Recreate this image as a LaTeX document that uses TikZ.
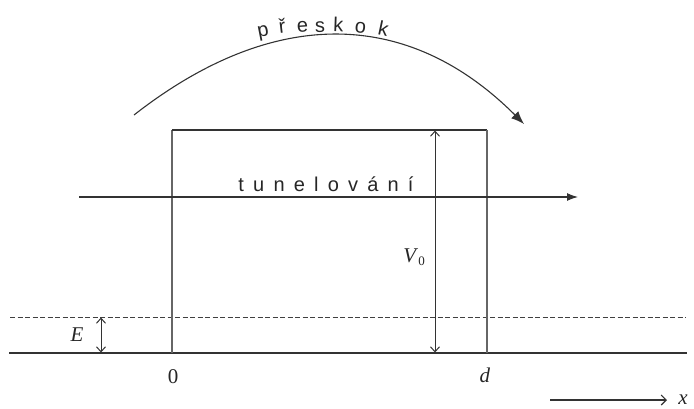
\documentclass[tikz,border=0pt]{standalone}
\usepackage{fontspec}
\setmainfont{Liberation Serif}
\newfontfamily\sansf{Liberation Sans}
\usetikzlibrary{arrows.meta}
\tikzset{
  ln/.style={line width=1.1pt, draw=black!80},
  boxln/.style={line width=1.1pt, draw=black!60},
  barb/.style={line width=1pt, draw=black!80, {Straight Barb[length=5pt,width=9pt]}-{Straight Barb[length=5pt,width=9pt]}},
  lbl/.style={inner sep=0pt, font=\fontsize{21}{21}\selectfont, text=black!85},
  ltr/.style={inner sep=0pt, anchor=base, font=\sansf\fontsize{20}{20}\selectfont, text=black!85},
}
\newcommand\gp{\kern9.2pt}
\begin{document}
\begin{tikzpicture}[x=1pt,y=-1pt]
\useasboundingbox (0,0) rectangle (694,408);
% baseline and energy level
\coordinate (bl) at (9,353);
\coordinate (br) at (687,353);
\draw[ln] (bl) -- (br);
\coordinate (dl) at (10,317);
\coordinate (dr) at (686,317);
\draw[line width=0.8pt, draw=black!75, dash pattern=on 5pt off 2.5pt] (dl) -- (dr);
% barrier
\coordinate (b0) at (172,353);
\coordinate (b1) at (172,130);
\coordinate (b2) at (487,130);
\coordinate (b3) at (487,353);
\draw[boxln] (b0) -- (b1);
\draw[ln] (b1) -- (b2);
\draw[boxln] (b2) -- (b3);
% V0 arrow
\coordinate (vt) at (435,130.5);
\coordinate (vb) at (435,352.5);
\draw[barb] (vt) -- (vb);
\node[lbl, anchor=base east] (V) at (425,262) {\textit{V}\raisebox{-3pt}{\fontsize{13}{13}\selectfont 0}};
% E arrow
\coordinate (et) at (101,317.5);
\coordinate (eb) at (101,352.5);
\draw[barb] (et) -- (eb);
\node[lbl] (E) at (77,335) {\textit{E}};
% axis labels
\node[lbl] (z) at (173,377) {0};
\node[lbl] (d) at (485,375) {\textit{d}};
\coordinate (xa) at (550,400);
\coordinate (xb) at (667,400);
\draw[ln, -{Straight Barb[length=5pt,width=10pt]}] (xa) -- (xb);
\node[lbl, anchor=east] (x) at (688,400) {\textit{x}};
% tunneling
\coordinate (ta) at (79,197);
\coordinate (tb) at (578,197);
\draw[ln, -{Latex[length=11pt,width=8pt]}] (ta) -- (tb);
\node[ltr] (tun) at (326,191.5) {t\gp u\gp n\gp e\gp l\gp o\gp v\gp á\gp n\gp í};
% hopping arc
\coordinate (ha) at (134,115);
\coordinate (hb) at (524,124);
\draw[ln, -{Latex[length=13pt,width=10pt]}] (ha) .. controls (272,7) and (407,7) .. (hb);
\node[ltr, rotate=11] (p1) at (264,36) {p};
\node[ltr, rotate=7] (p2) at (283,33.5) {ř};
\node[ltr, rotate=4] (p3) at (303,32.5) {e};
\node[ltr, rotate=1] (p4) at (320,32) {s};
\node[ltr, rotate=-2] (p5) at (338,31.5) {k};
\node[ltr, rotate=-6] (p6) at (360,33) {o};
\node[ltr, rotate=-12] (p7) at (382,36) {k};
\end{tikzpicture}
\end{document}
